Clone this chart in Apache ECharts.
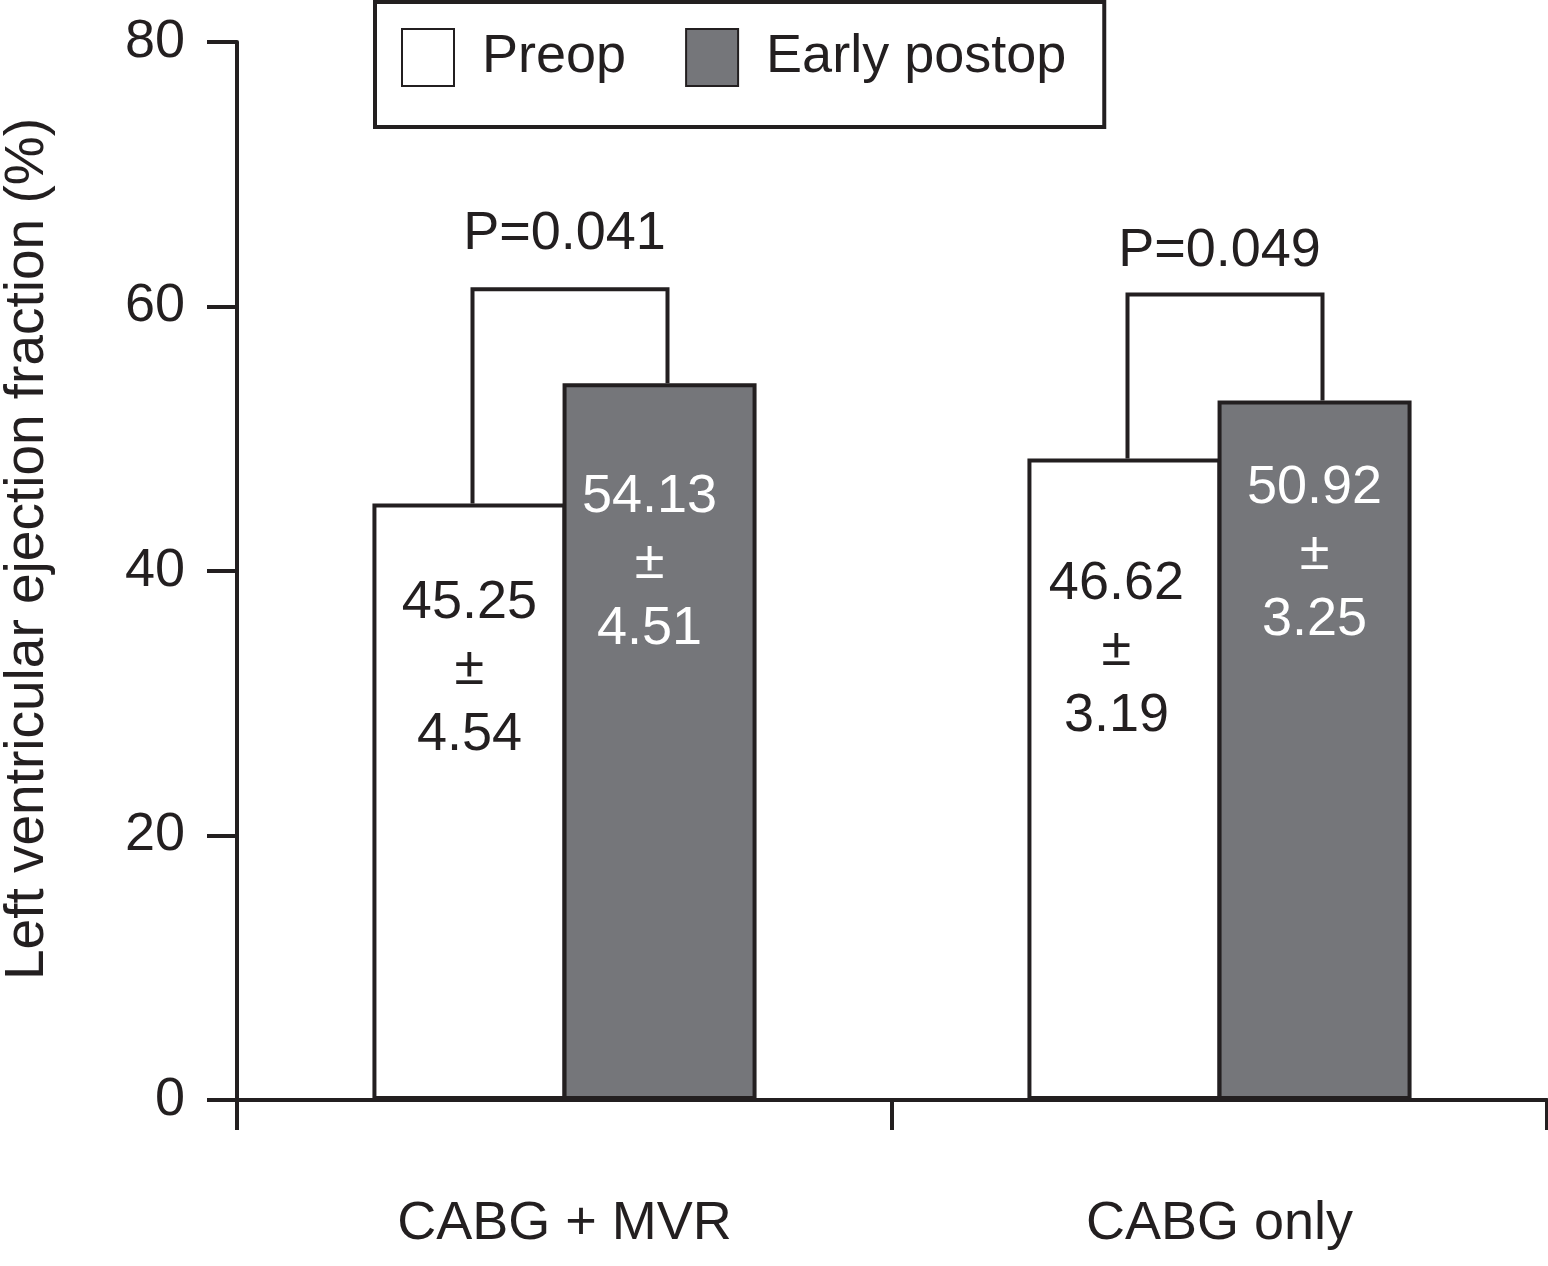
<!DOCTYPE html>
<html>
<head>
<meta charset="utf-8">
<script src="https://cdn.jsdelivr.net/npm/echarts@6/dist/echarts.min.js"></script>
<style>
html,body{margin:0;padding:0;background:#fff;}
#chart{width:1548px;height:1266px;}
</style>
</head>
<body>
<div id="chart"></div>
<script>
// ---- data ----
var categories = ['CABG + MVR', 'CABG only'];
var seriesNames = ['Preop', 'Early postop'];
var preopValues = [45.1, 48.5];      // bar heights
var postopValues = [54.2, 52.9];
var preopMean = ['45.25', '46.62'];
var preopSD = ['4.54', '3.19'];
var postopMean = ['54.13', '50.92'];
var postopSD = ['4.51', '3.25'];
var bracketValues = [61.3, 60.9];
var pLabels = ['P=0.041', 'P=0.049'];
var pLabelValues = [65.5, 64.2];
var yTicks = [0, 20, 40, 60, 80];

// ---- style ----
var INK = '#231f20';
var GRAY = '#75767a';
var FONT = '"Liberation Sans", Arial, sans-serif';
var FS = 54;
var BAR_W = 194;

var chart = echarts.init(document.getElementById('chart'), null, {renderer: 'canvas'});

var preopLabelDist = [67, 93], preopLabelOff = [[0, 0], [-8, 0]];
var postopLabelDist = [81, 55], postopLabelOff = [[-10, 0], [0, 0]];

function barData(values, means, sds, dists, offs, color) {
  return values.map(function (v, i) {
    return {
      value: v,
      label: {
        show: true,
        position: 'insideTop',
        distance: dists[i],
        offset: offs[i],
        formatter: means[i] + '\n±\n' + sds[i],
        color: color,
        fontSize: FS,
        fontFamily: FONT,
        lineHeight: 66,
        align: 'center'
      }
    };
  });
}

var bracketData = categories.map(function (c, i) {
  return [i, bracketValues[i], preopValues[i], postopValues[i], pLabelValues[i]];
});

var option = {
  animation: false,
  backgroundColor: '#fff',
  textStyle: {fontFamily: FONT, color: INK},
  grid: {left: 237, right: 1, top: 42, bottom: 166, containLabel: false, outerBoundsMode: 'none'},
  legend: {
    data: seriesNames,
    left: 375,
    top: 2,
    orient: 'horizontal',
    padding: [26, 38, 40, 26],
    itemGap: 59,
    itemWidth: 52,
    itemHeight: 57,
    icon: 'rect',
    borderColor: INK,
    borderWidth: 4,
    backgroundColor: '#fff',
    selectedMode: false,
    textStyle: {fontSize: FS, fontFamily: FONT, color: INK, padding: [14, 0, 0, 23]}
  },
  xAxis: {
    type: 'category',
    data: categories,
    boundaryGap: true,
    axisLine: {lineStyle: {color: INK, width: 4}},
    axisTick: {show: true, length: 30, lineStyle: {color: INK, width: 4}},
    axisLabel: {fontSize: FS, fontFamily: FONT, color: INK, margin: 97},
    splitLine: {show: false}
  },
  yAxis: {
    type: 'value',
    min: 0,
    max: 80,
    interval: 20,
    name: 'Left ventricular ejection fraction (%)',
    nameLocation: 'middle',
    nameRotate: 90,
    nameGap: 182,
    nameTextStyle: {fontSize: 55, fontFamily: FONT, color: INK, padding: [0, 0, 0, 44]},
    axisLine: {show: true, lineStyle: {color: INK, width: 4}},
    axisTick: {show: true, length: 30, lineStyle: {color: INK, width: 4}},
    axisLabel: {fontSize: FS, fontFamily: FONT, color: INK, margin: 52,
      formatter: function (v) { return yTicks.indexOf(v) >= 0 ? String(v) : ''; }},
    splitLine: {show: false}
  },
  series: [
    {
      name: seriesNames[0],
      type: 'bar',
      barWidth: BAR_W,
      barGap: '-2%',
      itemStyle: {color: '#ffffff', borderColor: INK, borderWidth: 4},
      data: barData(preopValues, preopMean, preopSD, preopLabelDist, preopLabelOff, INK),
      z: 2
    },
    {
      name: seriesNames[1],
      type: 'bar',
      barWidth: BAR_W,
      barGap: '-2%',
      itemStyle: {color: GRAY, borderColor: INK, borderWidth: 4},
      data: barData(postopValues, postopMean, postopSD, postopLabelDist, postopLabelOff, '#ffffff'),
      z: 3
    },
    {
      name: 'bracket',
      type: 'custom',
      silent: true,
      z: 5,
      data: bracketData,
      encode: {x: 0, y: 1},
      renderItem: function (params, api) {
        var cat = api.value(0);
        var top = api.coord([cat, api.value(1)]);
        var yL = api.coord([cat, api.value(2)])[1];
        var yR = api.coord([cat, api.value(3)])[1];
        var yP = api.coord([cat, api.value(4)])[1];
        var xL = top[0] - 95 + 3;
        var xR = top[0] + 95 + 8;
        return {
          type: 'group',
          children: [
            {
              type: 'polyline',
              shape: {points: [[xL, yL], [xL, top[1]], [xR, top[1]], [xR, yR]]},
              style: {stroke: INK, lineWidth: 4, fill: null, lineJoin: 'miter'}
            },
            {
              type: 'text',
              style: {
                x: top[0],
                y: yP,
                text: pLabels[params.dataIndex],
                fill: INK,
                font: FS + 'px ' + FONT,
                textAlign: 'center',
                textVerticalAlign: 'middle'
              }
            }
          ]
        };
      }
    }
  ]
};

chart.setOption(option);
</script>
</body>
</html>
